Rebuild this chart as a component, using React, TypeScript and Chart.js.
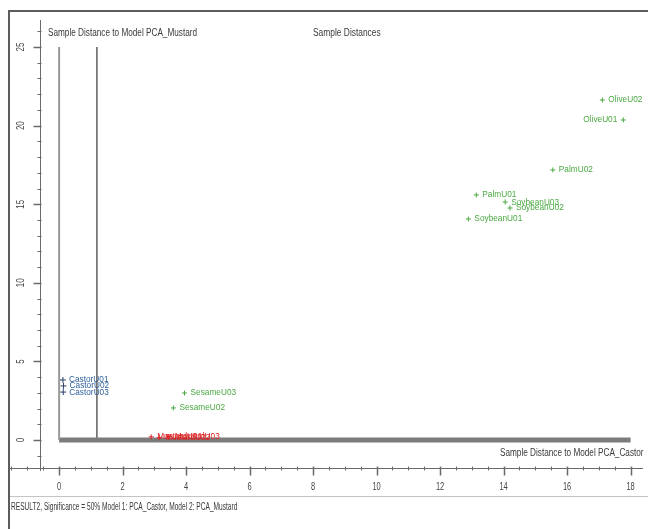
import React, { useEffect, useRef } from "react";
import { Chart, registerables } from "chart.js";

Chart.register(...registerables);

// Distances of each sample to the two class models
const castorNames = ["CastorU01", "CastorU02", "CastorU03"];
const castorX = [0.12, 0.14, 0.13];
const castorY = [3.82, 3.44, 3.05];

const mustardNames = ["MustardU01", "MustardU02", "MustardU03"];
const mustardX = [2.9, 3.15, 3.45];
const mustardY = [0.2, 0.14, 0.22];

const otherNames = [
  "OliveU02",
  "OliveU01",
  "PalmU02",
  "PalmU01",
  "SoybeanU03",
  "SoybeanU02",
  "SoybeanU01",
  "SesameU03",
  "SesameU02",
];
const otherX = [17.11, 17.77, 15.55, 13.14, 14.05, 14.2, 12.89, 3.95, 3.6];
const otherY = [21.63, 20.36, 17.18, 15.59, 15.14, 14.76, 14.06, 2.99, 2.04];

// Labels placed on the left side of their point
const leftLabelled = ["OliveU01"];

// Critical distances of the two models
const castorLimit = 1.19;
const mustardLimit = 0;
const limitTop = 25;
const limitRight = 18.0;

// Axis ticks
const xTicks = [0, 2, 4, 6, 8, 10, 12, 14, 16, 18];
const yTicks = [0, 5, 10, 15, 20, 25];

const chartTitle = "Sample Distances";
const xTitle = "Sample Distance to Model PCA_Castor";
const yTitle = "Sample Distance to Model PCA_Mustard";
const statusText =
  "RESULT2, Significance = 50% Model 1: PCA_Castor, Model 2: PCA_Mustard";

const GREEN = "#4aa842";
const BLUE = "#2d5f9c";
const RED = "#dd2222";
const FONT = "'Liberation Sans', Arial, sans-serif";

const pts = (xs: number[], ys: number[]) => xs.map((x, i) => ({ x, y: ys[i] }));

function squeezed(
  ctx: CanvasRenderingContext2D,
  text: string,
  x: number,
  y: number,
  align: CanvasTextAlign,
  sx: number
) {
  ctx.save();
  ctx.translate(x, y);
  ctx.scale(sx, 1);
  ctx.textAlign = align;
  ctx.textBaseline = "middle";
  ctx.fillText(text, 0, 0);
  ctx.restore();
}

const frameAndAxes = {
  id: "frameAndAxes",
  beforeDatasetsDraw(chart: any) {
    const { ctx, chartArea: a, scales } = chart;
    const xs = scales.x;
    const ys = scales.y;
    const W = chart.width;
    const H = chart.height;
    ctx.save();

    // outer frame
    ctx.strokeStyle = "#5c5c5c";
    ctx.lineWidth = 2;
    ctx.beginPath();
    ctx.moveTo(9, H);
    ctx.lineTo(9, 11);
    ctx.lineTo(W, 11);
    ctx.stroke();

    // vertical axis
    const ax = a.left + 30.5;
    ctx.strokeStyle = "#6a6a6a";
    ctx.lineWidth = 1;
    ctx.beginPath();
    ctx.moveTo(ax, a.top);
    ctx.lineTo(ax, a.bottom + 3);
    ctx.stroke();
    for (let v = Math.ceil(ys.min); v <= ys.max; v++) {
      const py = Math.round(ys.getPixelForValue(v)) + 0.5;
      const major = yTicks.includes(v);
      ctx.beginPath();
      ctx.lineWidth = major ? 1.5 : 1;
      ctx.moveTo(major ? ax - 7 : ax - 3, py);
      ctx.lineTo(ax + 1, py);
      ctx.stroke();
    }
    ctx.fillStyle = "#444";
    ctx.font = `10px ${FONT}`;
    yTicks.forEach((v) => {
      const py = ys.getPixelForValue(v);
      ctx.save();
      ctx.translate(ax - 19, py);
      ctx.rotate(-Math.PI / 2);
      ctx.scale(0.8, 1);
      ctx.textAlign = "center";
      ctx.textBaseline = "middle";
      ctx.fillText(String(v), 0, 0);
      ctx.restore();
    });

    // horizontal axis
    const by = a.bottom + 0.5;
    ctx.strokeStyle = "#6a6a6a";
    ctx.lineWidth = 1;
    ctx.beginPath();
    ctx.moveTo(a.left, by);
    ctx.lineTo(a.right, by);
    ctx.stroke();
    for (let v = Math.ceil(xs.min * 2) / 2; v <= xs.max; v += 0.5) {
      const px = Math.round(xs.getPixelForValue(v)) + 0.5;
      const major = xTicks.includes(v);
      ctx.beginPath();
      ctx.lineWidth = major ? 1.5 : 1;
      ctx.moveTo(px, by - 2);
      ctx.lineTo(px, by + (major ? 7 : 2));
      ctx.stroke();
    }
    ctx.fillStyle = "#444";
    ctx.font = `11px ${FONT}`;
    xTicks.forEach((v) => {
      squeezed(ctx, String(v), xs.getPixelForValue(v), a.bottom + 19, "center", 0.68);
    });

    // status bar
    ctx.strokeStyle = "#c4c4c4";
    ctx.lineWidth = 1;
    ctx.beginPath();
    ctx.moveTo(10, a.bottom + 28.5);
    ctx.lineTo(W, a.bottom + 28.5);
    ctx.stroke();
    ctx.fillStyle = "#3a3a3a";
    ctx.font = `10px ${FONT}`;
    squeezed(ctx, statusText, 11, a.bottom + 39, "left", 0.66);

    // titles
    ctx.fillStyle = "#3a3a3a";
    ctx.font = `10px ${FONT}`;
    squeezed(ctx, yTitle, a.left + 38, a.top + 13, "left", 0.82);
    squeezed(ctx, chartTitle, a.left + 303, a.top + 13, "left", 0.84);
    squeezed(ctx, xTitle, a.right - 143, a.bottom - 15, "left", 0.82);

    ctx.restore();
  },
};

const pointLabels = {
  id: "pointLabels",
  afterDatasetsDraw(chart: any) {
    const { ctx } = chart;
    ctx.save();
    ctx.font = `9px ${FONT}`;
    chart.data.datasets.forEach((ds: any, di: number) => {
      if (!ds.names) return;
      const meta = chart.getDatasetMeta(di);
      meta.data.forEach((el: any, i: number) => {
        const name = ds.names[i];
        const left = leftLabelled.includes(name);
        ctx.fillStyle = ds.labelColor;
        squeezed(ctx, name, left ? el.x - 6 : el.x + 6, el.y, left ? "right" : "left", 0.92);
      });
    });
    ctx.restore();
  },
};

export default function App() {
  const ref = useRef<HTMLCanvasElement | null>(null);

  useEffect(() => {
    if (!ref.current) return;
    const chart = new Chart(ref.current, {
      type: "scatter",
      data: {
        datasets: [
          {
            data: pts(castorX, castorY),
            names: castorNames,
            labelColor: BLUE,
            pointStyle: "cross",
            pointRadius: 3,
            borderColor: "#2a3f66",
            borderWidth: 1,
          } as any,
          {
            data: pts(mustardX, mustardY),
            names: mustardNames,
            labelColor: RED,
            pointStyle: "cross",
            pointRadius: 2.5,
            borderColor: RED,
            borderWidth: 1,
          } as any,
          {
            data: pts(otherX, otherY),
            names: otherNames,
            labelColor: GREEN,
            pointStyle: "cross",
            pointRadius: 2.5,
            borderColor: GREEN,
            borderWidth: 1,
          } as any,
          {
            type: "line",
            data: [
              { x: mustardLimit, y: limitTop },
              { x: mustardLimit, y: mustardLimit },
            ],
            borderColor: "#9a9a9a",
            borderWidth: 2,
            pointRadius: 0,
          } as any,
          {
            type: "line",
            data: [
              { x: 0, y: mustardLimit },
              { x: limitRight, y: mustardLimit },
            ],
            borderColor: "#7c7c7c",
            borderWidth: 5,
            pointRadius: 0,
          } as any,
          {
            type: "line",
            data: [
              { x: castorLimit, y: mustardLimit },
              { x: castorLimit, y: limitTop },
            ],
            borderColor: "#5e5e5e",
            borderWidth: 1.5,
            pointRadius: 0,
          } as any,
        ],
      },
      options: {
        animation: false,
        responsive: false,
        layout: { padding: { left: 10, right: 0, top: 20, bottom: 61 } },
        scales: {
          x: { type: "linear", min: -1.547, max: 18.39, display: false },
          y: { type: "linear", min: -1.781, max: 26.72, display: false },
        },
        plugins: {
          legend: { display: false },
          tooltip: { enabled: false },
        },
      },
      plugins: [frameAndAxes, pointLabels],
    });
    return () => chart.destroy();
  }, []);

  return (
    <div
      style={{
        position: "fixed",
        left: 0,
        top: 0,
        width: 648,
        height: 529,
        background: "#fff",
      }}
    >
      <canvas ref={ref} width={648} height={529} />
    </div>
  );
}
